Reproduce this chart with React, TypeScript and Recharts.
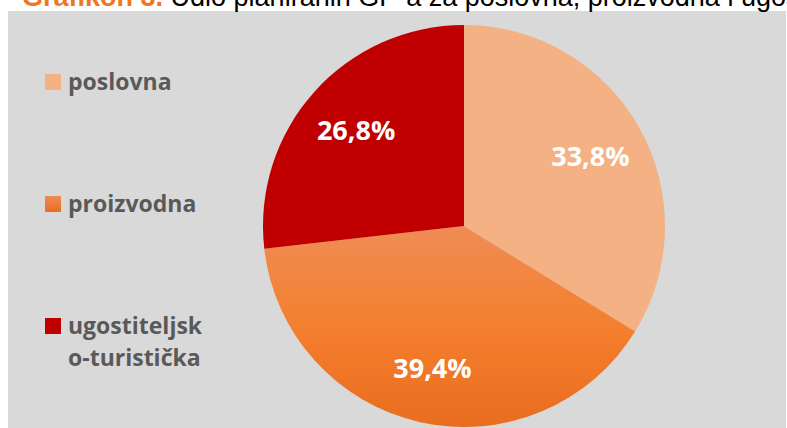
import React from 'react';
import { PieChart, Pie, Cell, Legend } from 'recharts';

const categories = ['poslovna', 'proizvodna', 'ugostiteljsko-turistička'];
const shares = [33.8, 39.4, 26.8];
const titleLead = 'Grafikon 3.';
const titleRest = 'Udio planiranih GP-a za poslovna, proizvodna i ugostiteljsko-turistička';

const data = categories.map((name, i) => ({ name, value: shares[i] }));

const SOLID = ['#F4B183', null, '#C00000'];
const GRAD_TOP = '#EF8C55';
const GRAD_MID = '#F47F2E';
const GRAD_BOT = '#E96D1E';

const fillFor = (i: number) => (SOLID[i] ? (SOLID[i] as string) : 'url(#gradProiz)');
const swatchFor = (i: number) =>
  SOLID[i] ? (SOLID[i] as string) : `linear-gradient(${GRAD_TOP}, ${GRAD_BOT})`;

const fmt = (v: number) => v.toFixed(1).replace('.', ',') + '%';

const RAD = Math.PI / 180;
const renderLabel = (props: any) => {
  const { cx, cy, midAngle, outerRadius, value } = props;
  const r = outerRadius * 0.72;
  const x = cx + r * Math.cos(-midAngle * RAD);
  const y = cy + r * Math.sin(-midAngle * RAD);
  return (
    <text
      x={x}
      y={y}
      fill="#FFFFFF"
      textAnchor="middle"
      dominantBaseline="central"
      fontFamily="'Open Sans', sans-serif"
      fontWeight={700}
      fontSize={27}
    >
      {fmt(value)}
    </text>
  );
};

const renderLegend = (props: any) => {
  const { payload } = props;
  return (
    <div style={{ fontFamily: "'Open Sans', sans-serif", fontWeight: 700, fontSize: 23, color: '#595959', lineHeight: '32px', textAlign: 'left' }}>
      {(payload || []).map((entry: any, i: number) => (
        <div key={i} style={{ position: 'relative', height: 122, paddingLeft: 23 }}>
          <div
            style={{
              position: 'absolute',
              left: 0,
              top: 9,
              width: 16,
              height: 16,
              background: swatchFor(i),
            }}
          />
          <div style={{ width: 140, wordBreak: 'break-all' }}>{entry.value}</div>
        </div>
      ))}
    </div>
  );
};

export default function App() {
  return (
    <div style={{ position: 'absolute', left: 0, top: 0, width: 787, height: 428, overflow: 'hidden', background: '#FFFFFF' }}>
      <style>{`.recharts-pie-sectors{filter:drop-shadow(1px 2px 3px rgba(0,0,0,0.35));}`}</style>
      <div style={{ position: 'absolute', left: 8, top: 11, width: 778, height: 417, background: '#D9D9D9' }} />
      <div
        style={{
          position: 'absolute',
          left: 22,
          top: -16,
          whiteSpace: 'nowrap',
          fontFamily: "'Liberation Sans', Arial, sans-serif",
          fontSize: 27,
          lineHeight: '27px',
          color: '#000000',
        }}
      >
        <span style={{ color: '#F0761F', fontWeight: 700 }}>{titleLead}</span> {titleRest}
      </div>
      <PieChart
        width={787}
        height={428}
        margin={{ top: 0, right: 0, bottom: 0, left: 0 }}
        style={{ position: 'absolute', left: 0, top: 0 }}
      >
        <defs>
          <linearGradient id="gradProiz" x1="0" y1="0" x2="0" y2="1">
            <stop offset="0%" stopColor={GRAD_TOP} />
            <stop offset="50%" stopColor={GRAD_MID} />
            <stop offset="100%" stopColor={GRAD_BOT} />
          </linearGradient>
        </defs>
        <Pie
          data={data}
          dataKey="value"
          nameKey="name"
          cx={464}
          cy={226}
          outerRadius={201}
          startAngle={90}
          endAngle={-270}
          stroke="none"
          label={renderLabel}
          labelLine={false}
          isAnimationActive={false}
        >
          {data.map((d, i) => (
            <Cell key={d.name} fill={fillFor(i)} stroke="none" />
          ))}
        </Pie>
        <Legend
          layout="vertical"
          verticalAlign="middle"
          align="center"
          content={renderLegend}
          wrapperStyle={{ left: 45, top: 65, width: 200 }}
        />
      </PieChart>
    </div>
  );
}
